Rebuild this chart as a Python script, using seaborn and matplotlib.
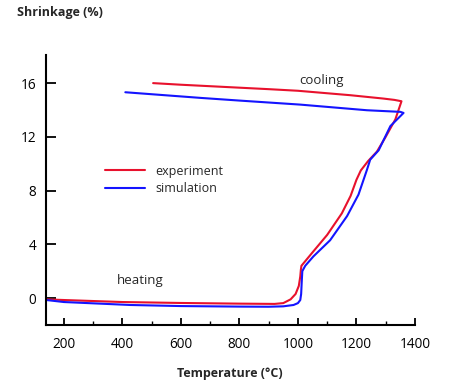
import matplotlib
matplotlib.use("Agg")
import matplotlib.pyplot as plt
import seaborn as sns
import pandas as pd
from matplotlib.ticker import MultipleLocator

# Experiment (red) path: heating then cooling
exp_temp = [140, 200, 400, 600, 800, 920, 950, 975, 992, 1003, 1008, 1010, 1012,
            1050, 1100, 1150, 1180, 1200, 1215, 1240, 1270, 1300, 1333, 1354,
            1330, 1292, 1179, 1000, 900, 800, 700, 600, 505]
exp_shrink = [-0.1, -0.15, -0.3, -0.37, -0.42, -0.44, -0.38, -0.1, 0.3, 0.9, 1.6, 2.1, 2.4,
              3.4, 4.7, 6.3, 7.6, 8.8, 9.5, 10.2, 10.9, 12.0, 13.3, 14.65,
              14.75, 14.85, 15.1, 15.43, 15.55, 15.66, 15.77, 15.88, 16.0]

# Simulation (blue) path: heating then cooling
sim_temp = [140, 200, 427, 600, 800, 900, 950, 985, 1000, 1008, 1011, 1013, 1015, 1025,
            1053, 1110, 1168, 1207, 1236, 1247, 1276, 1316, 1361,
            1350, 1236, 1008, 800, 667, 410]
sim_shrink = [-0.15, -0.3, -0.52, -0.6, -0.64, -0.65, -0.62, -0.52, -0.38, -0.15, 0.3, 1.2, 2.0, 2.4,
              3.1, 4.3, 6.1, 7.7, 9.55, 10.3, 11.0, 12.8, 13.78,
              13.86, 13.98, 14.4, 14.7, 14.9, 15.32]

series_names = ["experiment", "simulation"]
colors = ["#E8112D", "#1414FF"]

df = pd.concat([
    pd.DataFrame({"T": exp_temp, "S": exp_shrink, "series": series_names[0]}),
    pd.DataFrame({"T": sim_temp, "S": sim_shrink, "series": series_names[1]}),
])

sns.set_style("white")
plt.rcParams['font.family'] = ['Open Sans', 'DejaVu Sans']

fig = plt.figure(figsize=(4.53, 3.84), dpi=100)
ax = fig.add_axes([0.101, 0.154, 0.815, 0.703])

sns.lineplot(data=df, x="T", y="S", hue="series", palette=colors, sort=False,
             estimator=None, units="series", linewidth=1.5, ax=ax)

ax.set_xlim(138, 1400)
ax.set_ylim(-2.0, 18.1)
ax.xaxis.set_major_locator(MultipleLocator(200))
ax.xaxis.set_minor_locator(MultipleLocator(100))
ax.yaxis.set_major_locator(MultipleLocator(4))

for s in ["top", "right"]:
    ax.spines[s].set_visible(False)
for s in ["left", "bottom"]:
    ax.spines[s].set_color("black")
    ax.spines[s].set_linewidth(1.5)

ax.tick_params(axis="x", which="major", direction="in", length=5, width=1.3,
               pad=9, labelsize=9.8, colors="black")
ax.tick_params(axis="x", which="minor", direction="in", length=3, width=1.0,
               colors="black")
ax.tick_params(axis="y", which="major", direction="in", length=7, width=1.3,
               pad=7, labelsize=9.8, colors="black")
ax.tick_params(bottom=True, left=True)
ax.tick_params(axis="x", which="minor", bottom=True)

ax.set_xlabel("")
ax.set_ylabel("")
fig.text(0.508, 0.028, "Temperature (°C)", ha="center", va="center",
         fontsize=9, fontweight="bold")
fig.text(0.037, 0.968, "Shrinkage (%)", ha="left", va="center",
         fontsize=9, fontweight="bold")

ax.text(1082, 16.2, "cooling", ha="center", va="center", fontsize=9.5)
ax.text(461, 1.3, "heating", ha="center", va="center", fontsize=9.5)

leg = ax.legend(loc="upper left", bbox_to_anchor=(0.13, 0.635), frameon=False,
                fontsize=9, handlelength=3.2, handletextpad=0.8, labelspacing=0.35)

fig.savefig("out.png", dpi=100)
